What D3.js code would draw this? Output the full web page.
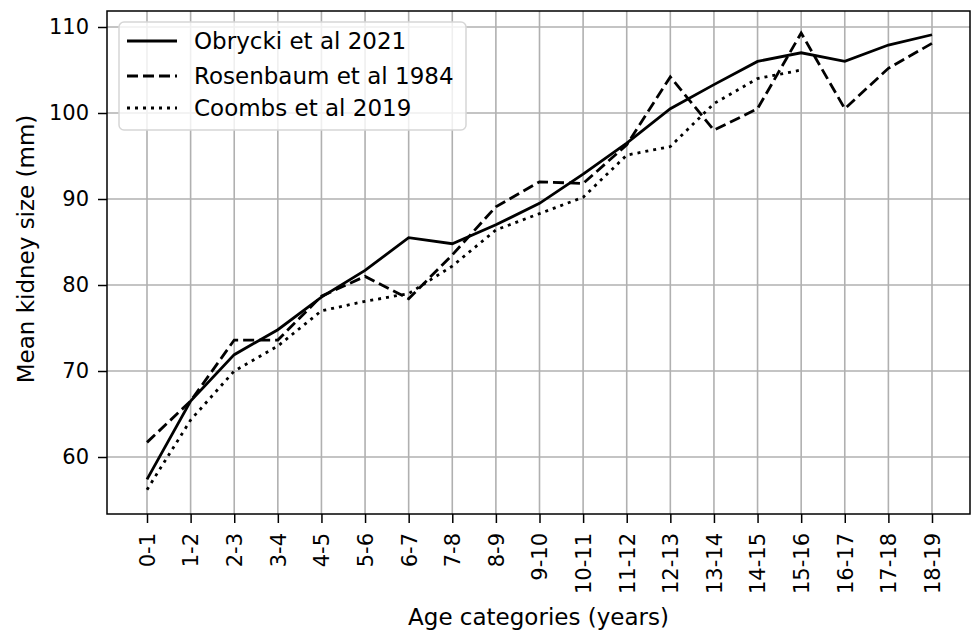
<!DOCTYPE html>
<html><head><meta charset="utf-8">
<script src="https://cdn.jsdelivr.net/npm/d3@7"></script>
<style>body{margin:0;background:#fff}svg{display:block}text{font-family:"DejaVu Sans",sans-serif;fill:#000}</style>
</head><body><svg id="c" width="973" height="631"></svg>
<script>
const categories = ["0-1","1-2","2-3","3-4","4-5","5-6","6-7","7-8","8-9","9-10","10-11","11-12","12-13","13-14","14-15","15-16","16-17","17-18","18-19"];
const obrycki = [57.4,66.5,71.9,74.8,78.6,81.7,85.5,84.8,87.0,89.5,92.9,96.5,100.5,103.3,106.0,107.0,106.0,107.9,109.1];
const rosenbaum = [61.7,66.5,73.6,73.6,78.7,81.0,78.4,83.5,89.1,92.0,91.8,96.3,104.2,98.0,100.5,109.3,100.5,105.2,108.1];
const coombs = [56.2,64.3,70.0,72.9,77.0,78.1,79.0,82.2,86.4,88.3,90.2,95.1,96.1,101.1,104.0,105.0,null,null,null];
const yTicks = [60,70,80,90,100,110];
const seriesNames = ["Obrycki et al 2021","Rosenbaum et al 1984","Coombs et al 2019"];

const svg = d3.select("#c");
const L=107, R=970, T=11, B=514;
const x = d3.scalePoint().domain(categories).range([147,932]);
const y = d3.scaleLinear().domain([60,110]).range([457,27]);

// grid
const g = svg.append("g");
g.selectAll(".gx").data(categories).join("line")
  .attr("x1",d=>x(d)).attr("x2",d=>x(d)).attr("y1",T).attr("y2",B)
  .attr("stroke","#b0b0b0").attr("stroke-width",1.6);
g.selectAll(".gy").data(yTicks).join("line")
  .attr("x1",L).attr("x2",R).attr("y1",d=>y(d)).attr("y2",d=>y(d))
  .attr("stroke","#b0b0b0").attr("stroke-width",1.6);

// lines
const styles = [null,"11,5","3,5"];
const data = [obrycki,rosenbaum,coombs];
data.forEach((s,i)=>{
  const line = d3.line().defined(d=>d!=null).x((d,j)=>x(categories[j])).y(d=>y(d));
  svg.append("path").datum(s).attr("d",line).attr("fill","none")
    .attr("stroke","#000").attr("stroke-width",2.8)
    .attr("stroke-dasharray",styles[i]);
});

// axes
const xAxis = svg.append("g").attr("transform",`translate(0,${B})`)
  .call(d3.axisBottom(x).tickSize(9).tickPadding(6));
xAxis.select(".domain").remove();
xAxis.selectAll("line").attr("stroke","#000").attr("stroke-width",1.5);
xAxis.selectAll("text").attr("font-size",21).attr("font-family","DejaVu Sans")
  .attr("transform","rotate(-90)").attr("text-anchor","end")
  .attr("x",-19).attr("y",0).attr("dy","0.35em");

const yAxis = svg.append("g").attr("transform",`translate(${L},0)`)
  .call(d3.axisLeft(y).tickValues(yTicks).tickSize(9).tickPadding(9));
yAxis.select(".domain").remove();
yAxis.selectAll("line").attr("stroke","#000").attr("stroke-width",1.5);
yAxis.selectAll("text").attr("font-size",21).attr("font-family","DejaVu Sans");

svg.append("rect").attr("x",L).attr("y",T).attr("width",R-L).attr("height",B-T)
  .attr("fill","none").attr("stroke","#000").attr("stroke-width",1.5);

// labels
svg.append("text").attr("x",538.5).attr("y",625).attr("text-anchor","middle")
  .attr("font-size",23).text("Age categories (years)");
svg.append("text").attr("transform","translate(34,249) rotate(-90)").attr("text-anchor","middle")
  .attr("font-size",23).text("Mean kidney size (mm)");

// legend
const lg = svg.append("g");
lg.append("rect").attr("x",119).attr("y",22).attr("width",347).attr("height",108).attr("rx",5)
  .attr("fill","#fff").attr("fill-opacity",0.8).attr("stroke","#d6d6d6").attr("stroke-width",1.5);
const ly = [41,76,108];
seriesNames.forEach((n,i)=>{
  lg.append("line").attr("x1",127).attr("x2",177).attr("y1",ly[i]).attr("y2",ly[i])
    .attr("stroke","#000").attr("stroke-width",2.8).attr("stroke-dasharray",styles[i]);
  lg.append("text").attr("x",194).attr("y",ly[i]).attr("dy","0.35em")
    .attr("font-size",23).text(n);
});
</script></body></html>
